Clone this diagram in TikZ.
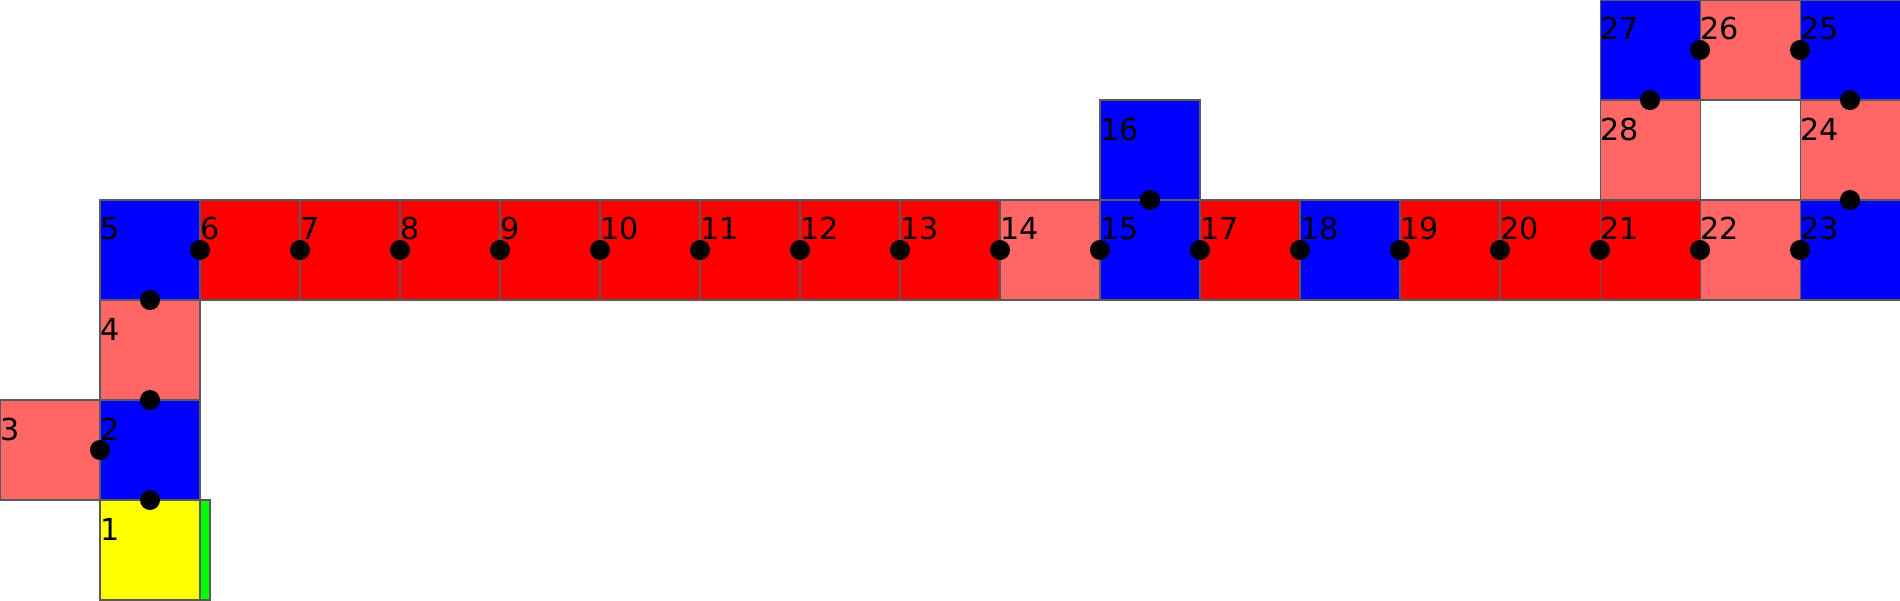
\documentclass[tikz,border=0pt]{standalone}
\usepackage{fontspec}
\setsansfont{DejaVu Sans}
\usepackage{xcolor}
\usepackage{tikz}
\usetikzlibrary{calc}
\definecolor{redc}{HTML}{FF0000}
\definecolor{bluec}{HTML}{0000FF}
\definecolor{pinkc}{HTML}{FF6666}
\definecolor{yellowc}{HTML}{FFFF00}
\definecolor{greenc}{HTML}{00FF00}

\begin{document}
\begin{tikzpicture}[
  font=\sffamily\fontsize{8.6}{10}\selectfont,
  cell/.style={draw=black!65, line width=0.3pt, minimum size=1cm, inner sep=0pt, outer sep=0pt},
  num/.style={anchor=base west, inner sep=0pt, yshift=-4mm, label distance=0pt},
  dot/.style={circle, fill=black, minimum size=2mm, inner sep=0pt}]
\useasboundingbox (0,0) rectangle (19,6);
\node[cell, fill=yellowc, label={[num]north west:1}] (c1) at (1.5,0.5) {};
\node[cell, fill=bluec, label={[num]north west:2}] (c2) at (1.5,1.5) {};
\node[cell, fill=pinkc, label={[num]north west:3}] (c3) at (0.5,1.5) {};
\node[cell, fill=pinkc, label={[num]north west:4}] (c4) at (1.5,2.5) {};
\node[cell, fill=bluec, label={[num]north west:5}] (c5) at (1.5,3.5) {};
\node[cell, fill=redc, label={[num]north west:6}] (c6) at (2.5,3.5) {};
\node[cell, fill=redc, label={[num]north west:7}] (c7) at (3.5,3.5) {};
\node[cell, fill=redc, label={[num]north west:8}] (c8) at (4.5,3.5) {};
\node[cell, fill=redc, label={[num]north west:9}] (c9) at (5.5,3.5) {};
\node[cell, fill=redc, label={[num]north west:10}] (c10) at (6.5,3.5) {};
\node[cell, fill=redc, label={[num]north west:11}] (c11) at (7.5,3.5) {};
\node[cell, fill=redc, label={[num]north west:12}] (c12) at (8.5,3.5) {};
\node[cell, fill=redc, label={[num]north west:13}] (c13) at (9.5,3.5) {};
\node[cell, fill=pinkc, label={[num]north west:14}] (c14) at (10.5,3.5) {};
\node[cell, fill=bluec, label={[num]north west:15}] (c15) at (11.5,3.5) {};
\node[cell, fill=bluec, label={[num]north west:16}] (c16) at (11.5,4.5) {};
\node[cell, fill=redc, label={[num]north west:17}] (c17) at (12.5,3.5) {};
\node[cell, fill=bluec, label={[num]north west:18}] (c18) at (13.5,3.5) {};
\node[cell, fill=redc, label={[num]north west:19}] (c19) at (14.5,3.5) {};
\node[cell, fill=redc, label={[num]north west:20}] (c20) at (15.5,3.5) {};
\node[cell, fill=redc, label={[num]north west:21}] (c21) at (16.5,3.5) {};
\node[cell, fill=pinkc, label={[num]north west:22}] (c22) at (17.5,3.5) {};
\node[cell, fill=bluec, label={[num]north west:23}] (c23) at (18.5,3.5) {};
\node[cell, fill=pinkc, label={[num]north west:24}] (c24) at (18.5,4.5) {};
\node[cell, fill=bluec, label={[num]north west:25}] (c25) at (18.5,5.5) {};
\node[cell, fill=pinkc, label={[num]north west:26}] (c26) at (17.5,5.5) {};
\node[cell, fill=bluec, label={[num]north west:27}] (c27) at (16.5,5.5) {};
\node[cell, fill=pinkc, label={[num]north west:28}] (c28) at (16.5,4.5) {};
\node[cell, fill=greenc, minimum width=1mm] (bar) at (2.05,0.5) {};
% joints between neighbouring cells
\foreach \a/\b in {1/2, 2/3, 2/4, 4/5, 5/6, 6/7, 7/8, 8/9, 9/10, 10/11, 11/12, 12/13,
                   13/14, 14/15, 15/16, 15/17, 17/18, 18/19, 19/20, 20/21, 21/22,
                   22/23, 23/24, 24/25, 25/26, 26/27, 27/28}
  \node[dot] (d\a-\b) at ($(c\a)!0.5!(c\b)$) {};
\end{tikzpicture}
\end{document}
